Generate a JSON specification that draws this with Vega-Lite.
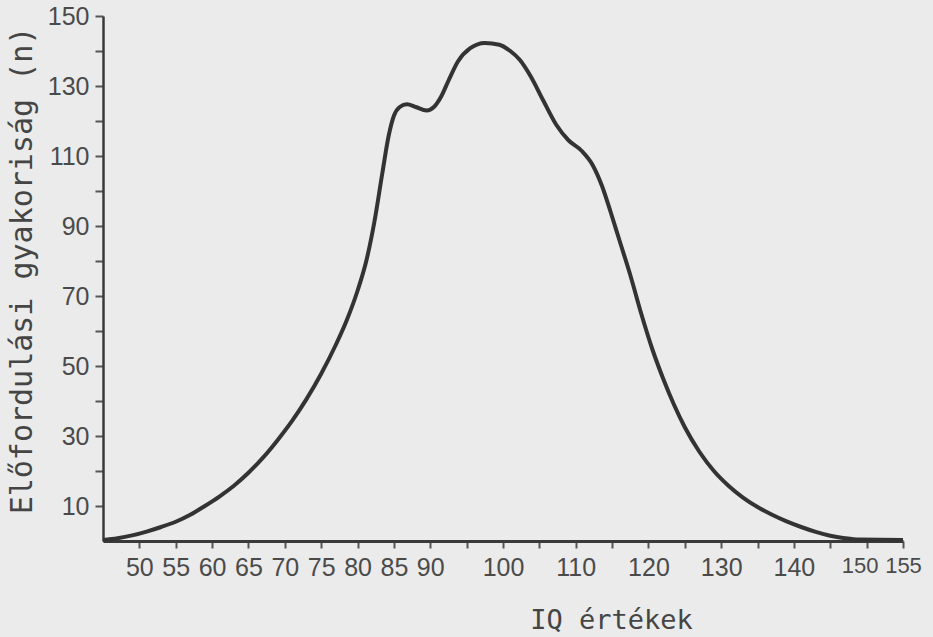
{
  "$schema": "https://vega.github.io/schema/vega-lite/v6.json",
  "width": 800,
  "height": 525,
  "autosize": {"type": "none"},
  "padding": {"left": 103, "top": 16, "right": 30, "bottom": 96},
  "background": "#ebebeb",
  "config": {"view": {"stroke": null}},
  "data": {
    "values": [
      {"iq": 45, "n": 0.3}, {"iq": 47, "n": 0.8}, {"iq": 49, "n": 1.6}, {"iq": 51, "n": 2.7},
      {"iq": 53, "n": 4}, {"iq": 55, "n": 5.5}, {"iq": 57, "n": 7.5}, {"iq": 59, "n": 10},
      {"iq": 61, "n": 12.7}, {"iq": 63, "n": 15.8}, {"iq": 65, "n": 19.5}, {"iq": 67, "n": 23.8},
      {"iq": 69, "n": 28.8}, {"iq": 71, "n": 34.3}, {"iq": 73, "n": 40.6}, {"iq": 75, "n": 47.8},
      {"iq": 77, "n": 56}, {"iq": 78.5, "n": 63}, {"iq": 80, "n": 71.5}, {"iq": 81.2, "n": 80},
      {"iq": 82.3, "n": 91}, {"iq": 83.4, "n": 105}, {"iq": 84.3, "n": 116}, {"iq": 85, "n": 121.5},
      {"iq": 85.8, "n": 124}, {"iq": 86.8, "n": 124.8}, {"iq": 88, "n": 124}, {"iq": 89.5, "n": 123},
      {"iq": 90.5, "n": 124}, {"iq": 91.5, "n": 127}, {"iq": 92.5, "n": 131.5}, {"iq": 93.8, "n": 137},
      {"iq": 95.5, "n": 140.8}, {"iq": 97.5, "n": 142.3}, {"iq": 99.5, "n": 141.8}, {"iq": 101, "n": 140},
      {"iq": 102.3, "n": 137.5}, {"iq": 103.8, "n": 132.8}, {"iq": 105.5, "n": 126}, {"iq": 107.3, "n": 119},
      {"iq": 109, "n": 114.5}, {"iq": 110.8, "n": 111.5}, {"iq": 112.3, "n": 107.5}, {"iq": 113.6, "n": 101.5},
      {"iq": 114.8, "n": 94}, {"iq": 116, "n": 86}, {"iq": 117.5, "n": 76}, {"iq": 119, "n": 65},
      {"iq": 120.5, "n": 55}, {"iq": 122, "n": 46.5}, {"iq": 123.5, "n": 39}, {"iq": 125, "n": 32.5},
      {"iq": 127, "n": 25.5}, {"iq": 129, "n": 20}, {"iq": 131, "n": 15.8}, {"iq": 133, "n": 12.4},
      {"iq": 135, "n": 9.7}, {"iq": 137, "n": 7.5}, {"iq": 139, "n": 5.6}, {"iq": 141, "n": 4},
      {"iq": 143, "n": 2.6}, {"iq": 145, "n": 1.5}, {"iq": 147, "n": 0.8}, {"iq": 149, "n": 0.4},
      {"iq": 155, "n": 0.3}
    ]
  },
  "mark": {"type": "line", "interpolate": "monotone", "stroke": "#333333", "strokeWidth": 4, "clip": false},
  "encoding": {
    "x": {
      "field": "iq",
      "type": "quantitative",
      "scale": {"domain": [45, 155], "nice": false, "zero": false},
      "axis": {
        "title": "IQ értékek",
        "titleFont": "DejaVu Sans Mono",
        "titleFontSize": 27,
        "titleFontWeight": "normal",
        "titleColor": "#454545",
        "titleX": 508,
        "titleY": 87,
        "titleAlign": "center",
        "titleBaseline": "alphabetic",
        "values": [50, 55, 60, 65, 70, 75, 80, 85, 90, 95, 100, 105, 110, 115, 120, 125, 130, 135, 140, 145, 150, 155],
        "labelExpr": "indexof([95,105,115,125,135,145], datum.value) >= 0 ? '' : datum.label",
        "labelFont": "Liberation Sans",
        "labelFontSize": {"condition": {"test": "datum.value >= 150", "value": 22}, "value": 25},
        "labelOffset": {"condition": {"test": "datum.value == 150", "value": -7}, "value": 0},
        "labelColor": "#4a4a4a",
        "labelOverlap": false,
        "labelFlush": false,
        "labelPadding": 7,
        "grid": false,
        "domainColor": "#3a3a3a",
        "domainWidth": 3,
        "tickColor": "#555555",
        "tickWidth": 2,
        "tickSize": 7
      }
    },
    "y": {
      "field": "n",
      "type": "quantitative",
      "scale": {"domain": [0, 150], "nice": false},
      "axis": {
        "title": "Előfordulási gyakoriság (n)",
        "titleFont": "DejaVu Sans Mono",
        "titleFontSize": 30,
        "titleFontWeight": "normal",
        "titleColor": "#454545",
        "titleAngle": -90,
        "titleX": -81,
        "titleY": 254,
        "titleAlign": "center",
        "titleBaseline": "middle",
        "values": [10, 20, 30, 40, 50, 60, 70, 80, 90, 100, 110, 120, 130, 140, 150],
        "labelExpr": "datum.value % 20 == 10 ? datum.label : ''",
        "labelFont": "Liberation Sans",
        "labelFontSize": 25,
        "labelColor": "#4a4a4a",
        "labelOverlap": false,
        "labelFlush": false,
        "labelPadding": 6,
        "grid": false,
        "domainColor": "#3a3a3a",
        "domainWidth": 2.5,
        "tickColor": "#555555",
        "tickWidth": 2,
        "tickSize": 8
      }
    }
  }
}
